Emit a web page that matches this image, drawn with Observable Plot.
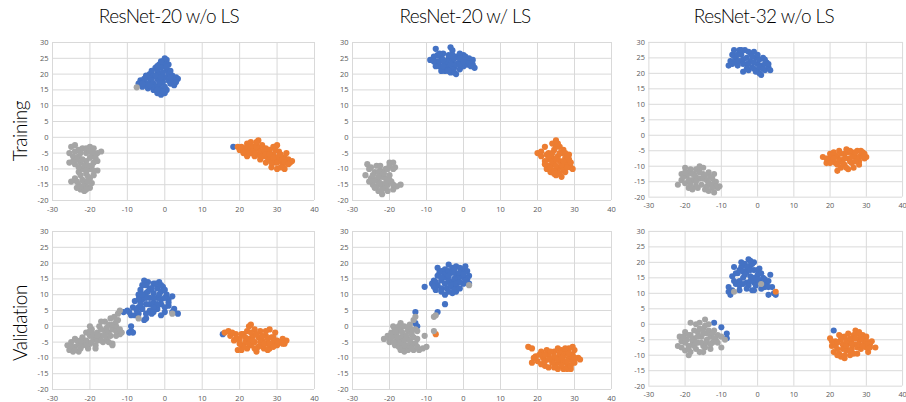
<!DOCTYPE html>
<html><head><meta charset="utf-8">
<script src="https://cdn.jsdelivr.net/npm/d3@7"></script>
<script src="https://cdn.jsdelivr.net/npm/@observablehq/plot@0.6"></script>
<style>
html,body{margin:0;padding:0;background:#fff;overflow:hidden}
#root{position:relative;width:906px;height:402px;overflow:hidden;background:#fff}
.title{position:absolute;font-family:Lato,"Open Sans",sans-serif;font-weight:300;font-size:19px;letter-spacing:-0.6px;color:#000;white-space:nowrap;transform:translateX(-50%)}
.rowlab{position:absolute;font-family:Lato,"Open Sans",sans-serif;font-weight:300;font-size:19px;letter-spacing:-0.4px;color:#000;white-space:nowrap;transform:translate(-50%,-50%) rotate(-90deg)}
.panel{position:absolute}
</style>
</head><body><div id="root"></div>
<script>
const xTicks = [-30,-20,-10,0,10,20,30,40];
const yTicks = [-20,-15,-10,-5,0,5,10,15,20,25,30];
const colTitles = ["ResNet-20 w/o LS","ResNet-20 w/ LS","ResNet-32 w/o LS"];
const rowTitles = ["Training","Validation"];
const classColors = ["#4472C4","#ED7D31","#A5A5A5"];

// Training, ResNet-20 w/o LS
const tr20_blue = [[0,25],[-0.5,24],[0.5,24.5],[-1.5,23],[0,23],[1,23],[-2.5,22],[-1,22],[0.5,21.5],[-3.5,21],[-2,21],[-4,20],[-3,19.5],[-1.5,20],[1,20],[2,19.5],[3,19],[3.5,18.5],[2.5,18],[1.5,17],[2.5,16.5],[-6.5,18],[-7,17],[-5.5,17.5],[-5,16.5],[-6,16],[-4.5,15.5],[-3,17],[-3,15],[-2.5,16],[-1.5,16.5],[-1,15],[-2,14],[-1,13.5],[0,14],[0.5,15],[-0.5,17.5],[-4,18.5],[-2,18.5],[0,19],[-5,19.5],[1.5,21],[18.3,-3],
  [-1,24],[-2,22.5],[-0.5,20.5],[-2.5,19.5],[-3.5,18],[-4.5,17],[-5.5,18.5],[-6,17],[-3.5,16],[-2,15],[-1.5,17.5],[0,16],[1,18],[2,18.5],[1.5,19],[3,17.5],[0.5,22.5],[-1,19],[-4,16.5],[-0.5,14.5]];
const tr20_orange = [[19.5,-3],[20,-4],[21,-3.5],[21,-5],[22,-2],[22.5,-4],[22,-6],[23,-1.5],[23.5,-3],[23,-5],[24,-4],[24,-6],[24.5,-2],[25,-1],[25,-3.5],[25,-5.5],[25.5,-7],[26,-2.5],[26,-4.5],[26.5,-6],[27,-3.5],[27,-8],[27.5,-5],[28,-4],[28,-7],[28.5,-9.5],[29,-3],[29,-5.5],[29.5,-8],[30,-6.5],[30,-10],[30.5,-4.5],[31,-7.5],[31.5,-9],[32,-6.5],[32,-10],[33,-7],[33.5,-8],[34,-7.5],[32.5,-5],[30,-2.5],
  [20.5,-3],[21.5,-4.5],[22,-3],[23,-3.5],[23.5,-4.5],[24,-5],[24.5,-3],[25.5,-4.5],[26,-6],[26.5,-4],[27,-5.5],[27.5,-6.5],[28,-5.5],[28.5,-8],[29,-6.5],[29.5,-4],[30,-8],[30.5,-6],[31,-5.5],[31.5,-7],[32,-8],[33,-8.5],[31,-9.5],[24.5,-1.5],[22.5,-5]];
const tr20_gray = [[-25,-3],[-24,-2.5],[-23,-4],[-22,-3.5],[-20,-3],[-19,-3.5],[-18,-5],[-25.5,-5],[-24.5,-6],[-23,-6],[-21,-5],[-19.5,-6],[-25.5,-8],[-24,-8.5],[-22.5,-8],[-21,-7.5],[-19,-8],[-18,-7.5],[-22,-10],[-20,-10],[-18,-10.5],[-23,-11],[-21,-11.5],[-19,-12],[-24,-13],[-22,-13.5],[-20,-13],[-25,-14],[-23,-15],[-21,-15.5],[-19.5,-14.5],[-22.5,-16.5],[-21.5,-17],[-20,-16],[-23.5,-16],[-20.5,-9],[-17,-4.5],[-7.5,15.8],
  [-24,-4.5],[-22.5,-5],[-21,-3.5],[-20,-4.5],[-19,-5],[-23.5,-7],[-22,-7],[-20,-6.5],[-19.5,-9],[-21.5,-9],[-23,-9.5],[-21,-10.5],[-19,-10.5],[-22.5,-12],[-20.5,-12.5],[-23.5,-14],[-21.5,-14],[-22,-15.5],[-20.5,-14],[-21,-16.5],[-24.5,-7.5],[-18.5,-6.5]];

// Training, ResNet-20 w/ LS
const tr20ls_blue = [[-7.5,28],[-3.5,28.5],[-3,27.5],[-9,24.5],[-8,25.5],[-7,24],[-6.5,22.5],[-6,25.5],[-5.5,26.5],[-5,23.5],[-5,21],[-4,25],[-4,22.5],[-3.5,20.5],[-3,24],[-2.5,22],[-2,25.5],[-2,20],[-1.5,23.5],[-1,21.5],[-0.5,24.5],[0,26],[0,22.5],[0.5,24],[1,23],[1.5,25],[2,24],[2.5,23],[3,22],[2.5,24.5],[-6,21],[-7.5,22.5],[-1,26.5],[-4.5,24],[-2.5,25],
  [-8,24],[-7,26],[-6.5,24],[-5.5,24.5],[-4.5,22],[-4,26],[-3.5,23],[-3,21.5],[-2,23],[-1,23],[-1,25],[0,24],[0.5,25.5],[1.5,23.5],[-5.5,22.5],[-2.5,20.5],[-3,26],[-6.5,26.5],[2,22.5],[-4,21]];
const tr20ls_orange = [[20,-5],[21,-6],[22,-3],[22,-7.5],[22.5,-10],[23,-5],[23,-9],[23.5,-11],[24,-2],[24,-6.5],[24.5,-4],[24.5,-8.5],[25,-1],[25,-12],[25.5,-6],[25.5,-10],[26,-3],[26,-7.5],[26.5,-5],[26.5,-12.5],[27,-9],[27.5,-6.5],[27.5,-11],[28,-8],[28.5,-5.5],[29,-9.5],[29.5,-10],[28.5,-7],[23,-7],[26,-9.5],[27,-4],
  [21,-4.5],[22.5,-5.5],[23,-6],[24,-5],[24,-8],[23.5,-9.5],[24.5,-10.5],[25,-7],[25,-9],[25,-3],[25.5,-2],[26,-5],[26.5,-9],[27,-7.5],[27,-10.5],[27.5,-5],[28,-9.5],[28,-6],[26,-11.5],[24.5,-11.5],[29,-8],[22,-8.5]];
const tr20ls_gray = [[-26,-8.5],[-25.5,-10],[-26.5,-12],[-25,-13],[-24,-11],[-23.5,-9],[-22.5,-10.5],[-22,-12.5],[-21,-10],[-20,-8],[-19,-8],[-18.5,-9.5],[-21,-13],[-23,-14],[-24.5,-15],[-22,-15.5],[-20.5,-15],[-19.5,-14],[-18,-15.5],[-17,-15],[-23,-17],[-22,-18],[-20.5,-17],[-19,-16.5],[-24,-13.5],[-22,-11],[-20,-12],
  [-25,-9.5],[-24.5,-12],[-23,-11],[-23,-12.5],[-21.5,-11.5],[-20.5,-10],[-20,-9],[-19,-10],[-23.5,-15.5],[-22.5,-14.5],[-21,-14.5],[-21,-16],[-20,-13.5],[-19,-15],[-22,-16.5],[-24,-16],[-22.5,-9],[-25.5,-14]];

// Training, ResNet-32 w/o LS
const tr32_blue = [[-8,22.5],[-7.5,24],[-7,26],[-6.5,27.5],[-6,25],[-5.5,22.5],[-5,27.5],[-4.5,26],[-4,24.5],[-3.5,27.5],[-3,23],[-2.5,21],[-2,26.5],[-2,24],[-1.5,22],[-1,27],[-0.5,25],[0,23],[0,21],[0.5,24.5],[1,22.5],[1,19.5],[1.5,25],[2,21],[2.5,23.5],[3,22],[3.5,21],[-4,20.5],[-6,24],[-1,21.5],[0.5,20],
  [-7,23],[-6.5,25.5],[-5.5,26],[-5,24],[-4.5,27.5],[-4,23],[-3,25],[-2.5,27],[-2.5,23],[-1.5,25.5],[-1,23.5],[0,26],[0.5,22],[1.5,21.5],[2,23],[2,24.5],[-3,21.5],[-0.5,20.5],[3,23]];
const tr32_orange = [[18,-7],[19,-9],[19.5,-7.5],[20,-6],[20.5,-8.5],[21,-5.5],[21.5,-9],[22,-7],[22,-11.5],[22.5,-5],[23,-8],[23,-10.5],[24,-6],[24,-9.5],[24.5,-4.5],[25,-7.5],[25,-11],[26,-5.5],[26,-9],[26.5,-10.5],[27,-7],[27.5,-5],[28,-8.5],[28.5,-6.5],[29,-5.5],[29.5,-7.5],[30,-7],[28,-9.5],[21.5,-6.5],[26.5,-6.5],
  [19,-7.5],[20.5,-6.5],[21,-7.5],[22.5,-8.5],[23,-6],[23.5,-9],[24,-7.5],[24.5,-10.5],[25,-5.5],[25.5,-8.5],[26,-7],[27,-8.5],[27,-5.5],[28,-7],[29,-7],[29.5,-6],[28.5,-5],[25.5,-5],[22,-9.5],[20,-9]];
const tr32_gray = [[-22,-16],[-21,-14.5],[-21,-12.5],[-20,-10.5],[-20,-15.5],[-19.5,-13],[-19,-17],[-18.5,-11],[-18,-14.5],[-17.5,-12.5],[-17,-16.5],[-16.5,-11],[-16,-14],[-16,-10],[-15.5,-16],[-15,-12.5],[-14.5,-17.5],[-14,-14.5],[-13.5,-12],[-13,-16],[-12.5,-14],[-12,-18.5],[-11.5,-15],[-11,-17],[-10.5,-16.5],[-19,-12],[-17,-13.5],[-14,-16.5],[-12,-12.5],
  [-20.5,-13.5],[-19,-14.5],[-18.5,-16],[-18,-12.5],[-17,-11],[-17,-15],[-16,-12],[-15,-14],[-15,-10.5],[-14.5,-13],[-13.5,-15.5],[-13,-13.5],[-12,-15.5],[-11.5,-16.5],[-12.5,-17],[-16.5,-17],[-20,-12],[-18,-17.5],[-13.5,-18]];

// Validation, ResNet-20 w/o LS
const va20_blue = [[-5.5,14.5],[-4.5,14],[-3,13.5],[-1.5,14],[-0.5,12.5],[-2,12],[-4,12],[-6,13],[-6.5,11.5],[-7,10],[-5,10.5],[-3,10.5],[-1,11],[0.5,10],[1,8.5],[2,9.5],[-2,9],[-4,9],[-6,8.5],[-8,8],[-5,7],[-3,7.5],[-1,7],[1,6.5],[2.5,5.5],[3.5,4],[2,4.5],[-2,5.5],[-4,5],[-6,5.5],[-7,6],[-8.5,6],[-10,5],[-11,4.5],[-9,3.5],[-8,3.5],[-5,2.5],[-5.5,2],[-9,0],[-9,-1.5],[-9.5,-2],[-8.5,-2],[0,4.5],[-1,3.5],[-3.5,4],[-7.5,5],[15.5,-2.5],
  [-5,13],[-3.5,12],[-2.5,13.5],[-1,13],[-4.5,11],[-1.5,10],[0,11.5],[-3,9],[-5,9],[-1,8.5],[0,9],[1,7.5],[-2,7],[-4,7],[-6.5,7],[-7,8.5],[-3,6],[0,6],[-5,4],[-7,4],[-9.5,4.5],[-3,4.5],[-6,10]];
const va20_orange = [[16,-2],[17,-1.5],[17.5,-3],[18.5,-4.5],[19,-2.5],[19.5,-7.5],[20,-4],[20.5,-6],[21,-2.5],[21.5,-5],[22,-7],[22,-1.5],[22.5,-4],[23,0.5],[23,-6],[23.5,-3],[24,-1],[24,-5],[24.5,-8],[25,-3.5],[25,-6.5],[25.5,-1.5],[26,-4.5],[26.5,-7],[27,-3],[27.5,-5.5],[28,-1],[28,-7],[28.5,-3.5],[29,-5],[29.5,-2],[30,-4.5],[30,-6],[31,-5],[31.5,-4],[32,-5.5],[32.5,-4.5],[26,-6],[21,-6.5],
  [18,-2],[19,-4],[20,-5.5],[20.5,-2.5],[21.5,-3.5],[22.5,-5.5],[23,-2],[23.5,-4.5],[24,-7],[24.5,-2.5],[25.5,-5],[26,-3],[26.5,-5.5],[27,-1.5],[27.5,-4],[28,-5.5],[29,-3.5],[29,-6.5],[30.5,-5],[31.5,-5.5],[22.5,0],[20.5,-7.5],[27.5,-7.5]];
const va20_gray = [[-26,-6],[-25.5,-7.5],[-25,-5],[-24.5,-8],[-24,-4],[-24,-6.5],[-23,-5.5],[-23,-8],[-22,-3.5],[-22,-6],[-21,-4.5],[-20.5,-7],[-20,-3],[-20,-5.5],[-19.5,-1],[-19,-4],[-18.5,-6],[-18,-2],[-18,-4.5],[-17.5,0],[-17,-3],[-16.5,-5],[-16,-1.5],[-16,1.5],[-15.5,-4],[-15,-2],[-15,0.5],[-14.5,2.5],[-14,-1],[-14,-5.5],[-13.5,3],[-13,-3],[-13,0],[-12.5,4],[-12,5],[-12,-2.5],[-14,-6],[-17,1.5],[-21,-2],[-20,0],[-18.5,-7],[-11.5,-2],[-12.5,2],[2,4],[-7,2.5],
  [-25,-6.5],[-24,-7.5],[-23.5,-4.5],[-22.5,-7],[-21.5,-5],[-21,-6],[-19.5,-5],[-19,-2.5],[-18,-3],[-17,-4.5],[-17,-1],[-16,-3],[-15,-5],[-14.5,-3],[-14,0.5],[-13,-1.5],[-13,1.5],[-15.5,-0.5],[-12,-1],[-20,-1.5],[-22.5,-4.5]];

// Validation, ResNet-20 w/ LS
const va20ls_blue = [[-7,18.5],[-6.5,17],[-5,18],[-4,19.5],[-3,18.5],[-2,19],[-1,18.5],[0,18],[1,17.5],[1.5,16],[-3.5,17],[-2,16.5],[-1,16],[0,15.5],[1,15],[-7,16],[-6,14.5],[-5,15.5],[-4,14.5],[-3,14],[-1.5,14],[0,13.5],[1.5,13.5],[-8,14.5],[-8.5,13.5],[-7,13],[-6,12],[-4.5,12],[-3,12.5],[-2,11],[-3,10.5],[-5,10],[-7.5,11.5],[-10.5,12.5],[-5,7],[-7,4.5],[-13,4.5],[-13,1],[-12.5,0],[-2,12.5],
  [-6,17.5],[-5,16.5],[-4,17.5],[-3,17],[-2.5,18],[-1,17],[0,16.5],[0.5,19],[-1.5,15],[-2.5,15],[-4,16],[-6,15.5],[-5,13.5],[-3.5,13],[-2,13.5],[-1,14],[0.5,14.5],[-4,11],[-2.5,11.5],[-6,11],[-7.5,14],[-8,12.5],[-1,12]];
const va20ls_orange = [[17.5,-6.5],[18.5,-7],[18.5,-11.5],[19.5,-9.5],[20,-11],[21,-8],[21.5,-10],[22,-12.5],[22.5,-7.5],[23,-9],[23,-13],[24,-10.5],[24.5,-8],[25,-12],[25.5,-7],[25.5,-13.5],[26,-9.5],[26.5,-7.5],[27,-11],[27,-13.5],[27.5,-8.5],[28,-12],[28.5,-10],[29,-13.5],[29.5,-6.5],[29.5,-9],[30,-7.5],[30,-11.5],[31,-10],[31.5,-10.5],[28.5,-7],[24,-11.5],[26,-11],[-7.5,-2.5],
  [19,-10],[20.5,-9],[21,-12],[22,-9],[22,-11],[23,-10.5],[23.5,-8],[24.5,-9.5],[24.5,-13],[25.5,-10.5],[26,-8.5],[26.5,-12.5],[27,-9.5],[28,-11],[28,-13.5],[28.5,-8.5],[29.5,-11],[29,-12.5],[30,-10],[27.5,-7],[26.5,-10]];
const va20ls_gray = [[-21.5,-4],[-20.5,-3],[-20,-5],[-19,0],[-19,-3],[-18.5,-6],[-18,-2],[-18,-4.5],[-17,1],[-17,-1],[-17,-3.5],[-17,-7.5],[-16.5,-5.5],[-16,0],[-16,-3],[-15.5,-6.5],[-15,-1.5],[-15,-4],[-14.5,0.5],[-14,-2.5],[-14,-5.5],[-13.5,2],[-13.5,-7.5],[-13,-1],[-13,3],[-12.5,-4],[-12,-7.5],[-11,-7],[-10,-6.5],[-10.5,-3],[-16,-8],[-19.5,-2],[-15,-7.5],[-12.5,-1.5],[-18,-5.5],[1.5,13],[-8,3],[-7.5,3.5],[-8,-1.5],
  [-20,-4],[-19,-5],[-18.5,-1],[-18,-3.5],[-17.5,-6.5],[-17,-5],[-16.5,-2],[-16.5,-7],[-16,-4.5],[-15.5,-3],[-15,-0.5],[-15,-6],[-14.5,-4.5],[-14,-1],[-14,-7],[-13.5,-3.5],[-13,-5.5],[-12.5,-6.5],[-17.5,0],[-19.5,-3.5],[-16,-6]];

// Validation, ResNet-32 w/o LS
const va32_blue = [[-8,10.5],[-7.5,9.5],[-8,12],[-7,15.5],[-6.5,18.5],[-6,13],[-5.5,16.5],[-5,11],[-4.5,18.5],[-4,15],[-3.5,19.5],[-3,13.5],[-3,17],[-2.5,21],[-2,15.5],[-2,19],[-1.5,11],[-1,17.5],[-1,13.5],[0,16],[0.5,18],[0.5,14],[1,11.5],[1.5,15],[2,12],[2.5,13],[3,9.5],[3.5,16],[4,12],[4.5,10],[5,9.5],[-1,20],[-5,14],[-2.5,12.5],[-12,0.5],[-10,-1],[-8.5,-3],[-8.5,-4.5],[21,-2],
  [-7,11],[-6.5,14],[-6,16.5],[-5,17.5],[-5,12.5],[-4,13],[-4,17],[-3.5,16],[-3,18.5],[-3,11.5],[-2,17.5],[-2,14],[-1.5,19.5],[-1,15],[-0.5,12.5],[0,17.5],[0,14.5],[1,16.5],[1.5,13],[2,14.5],[3,12],[3,14],[-4.5,20],[-2,20.5],[-1,11]];
const va32_orange = [[20,-4.5],[20.5,-7],[21,-9],[21.5,-5.5],[22,-8],[22.5,-3.5],[23,-10.5],[23.5,-6.5],[24,-4],[24,-11],[24.5,-8.5],[25,-3],[25,-6],[25.5,-10],[26,-5],[26,-8],[26.5,-3.5],[27,-2],[27,-6.5],[27.5,-9.5],[28,-5],[28.5,-8],[29,-3.5],[29.5,-6],[30,-4],[30.5,-9],[31,-6.5],[31.5,-5.5],[32.5,-7.5],[30,-7.5],[23,-5],[5,10.5],
  [20.5,-5.5],[21.5,-7],[22,-6],[22.5,-9.5],[23,-4],[23.5,-8],[24,-10],[24.5,-5.5],[24.5,-7],[25.5,-4.5],[25.5,-8.5],[26,-6.5],[26.5,-9.5],[27,-4.5],[27.5,-7.5],[27.5,-3],[28,-6.5],[28.5,-4],[29,-7],[29,-5],[30,-5.5],[30.5,-6.5],[31,-7.5],[22,-10],[28,-2.5]];
const va32_gray = [[-22,-7],[-21.5,-4],[-21,-5.5],[-20,-2.5],[-20,-8.5],[-19.5,-5],[-19,-10],[-18.5,-3.5],[-18,-6.5],[-18.5,0.5],[-17.5,-4.5],[-17,-8],[-16.5,-2.5],[-16.5,-6],[-16,-9],[-16,0.5],[-15.5,-4],[-15,-7],[-15,-1.5],[-14.5,1.5],[-14,-5],[-14,-3],[-13.5,0],[-13,-8],[-13,-4],[-12.5,-6],[-12,-2],[-11.5,-5],[-11,-3.5],[-10,-7.5],[-10,-4],[-9,-5],[-19,-7],[1,13],[-6.5,10.5],
  [-21,-7.5],[-20.5,-4],[-20,-6],[-19,-3.5],[-19,-8],[-18,-5],[-17.5,-2],[-17.5,-7],[-17,-6],[-16.5,-4],[-16,-1.5],[-15.5,-6],[-15,-3],[-14.5,-0.5],[-14.5,-7.5],[-14,-6],[-13.5,-2],[-13,-6.5],[-12.5,-3],[-12,-4.5],[-11,-6],[-17,0],[-18.5,-9],[-15,-9]];

const panelData = [
  [[tr20_blue, tr20_orange, tr20_gray], [tr20ls_blue, tr20ls_orange, tr20ls_gray], [tr32_blue, tr32_orange, tr32_gray]],
  [[va20_blue, va20_orange, va20_gray], [va20ls_blue, va20ls_orange, va20ls_gray], [va32_blue, va32_orange, va32_gray]]
];

const root = document.getElementById("root");
const frameLeft = [52, 352, 649];
const frameW = [262, 259, 259];
const frameTop = [42, 231];
const frameH = 158;
const mL = 30, mR = 4, mT = 4, mB = 18;
const titleX = [169, 465, 764];
const rowY = [131, 323];

colTitles.forEach((t, i) => {
  const d = document.createElement("div");
  d.className = "title"; d.textContent = t;
  d.style.left = titleX[i] + "px"; d.style.top = "4px";
  root.appendChild(d);
});
rowTitles.forEach((t, i) => {
  const d = document.createElement("div");
  d.className = "rowlab"; d.textContent = t;
  d.style.left = "19px"; d.style.top = rowY[i] + "px";
  root.appendChild(d);
});

for (let r = 0; r < 2; r++) {
  for (let c = 0; c < 3; c++) {
    const sets = panelData[r][c];
    const marks = [
      Plot.gridX(xTicks, {stroke: "#d9d9d9", strokeOpacity: 1, strokeWidth: 1}),
      Plot.gridY(yTicks, {stroke: "#d9d9d9", strokeOpacity: 1, strokeWidth: 1}),
      Plot.axisX(xTicks, {tickSize: 0, tickPadding: 6, label: null, tickFormat: d => String(d), fill: "#595959"}),
      Plot.axisY(yTicks, {tickSize: 0, tickPadding: 4, label: null, tickFormat: d => String(d), fill: "#595959"})
    ];
    sets.forEach((s, k) => {
      marks.push(Plot.dot(s, {x: d => d[0], y: d => d[1], r: 3.1, fill: classColors[k], stroke: "none"}));
    });
    const svg = Plot.plot({
      width: mL + frameW[c] + mR,
      height: mT + frameH + mB,
      marginLeft: mL, marginRight: mR, marginTop: mT, marginBottom: mB,
      x: {domain: [-30, 40]},
      y: {domain: [-20, 30]},
      style: {fontFamily: "'Open Sans', sans-serif", fontSize: "7.5px", background: "transparent", overflow: "visible"},
      marks
    });
    const wrap = document.createElement("div");
    wrap.className = "panel";
    wrap.style.left = (frameLeft[c] - mL) + "px";
    wrap.style.top = (frameTop[r] - mT) + "px";
    wrap.appendChild(svg);
    root.appendChild(wrap);
  }
}
</script></body></html>
